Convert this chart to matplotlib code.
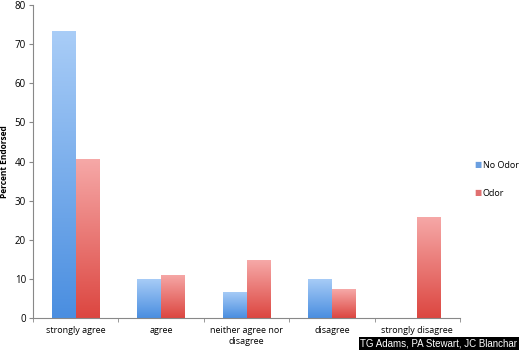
import numpy as np
import matplotlib.pyplot as plt
from matplotlib.colors import LinearSegmentedColormap

categories = ['strongly agree', 'agree', 'neither agree nor\ndisagree', 'disagree', 'strongly disagree']
no_odor = [73.3, 10.0, 6.7, 10.0, 0.0]
odor = [40.7, 11.1, 14.8, 7.4, 25.9]
y_ticks = [0, 10, 20, 30, 40, 50, 60, 70, 80]

blue_cmap = LinearSegmentedColormap.from_list('blue', ['#4a8ee0', '#a9cdf7'])
red_cmap = LinearSegmentedColormap.from_list('red', ['#dc4640', '#f6a9a8'])

plt.rcParams['font.family'] = ['Open Sans', 'DejaVu Sans']

fig = plt.figure(figsize=(5.2, 3.5), dpi=100)
ax = fig.add_axes([33 / 520, 32 / 350, 427 / 520, 313 / 350])

x = np.arange(len(categories))
w = 0.28
grad = np.linspace(0, 1, 256).reshape(-1, 1)

def gradient_bars(xs, vals, cmap, label):
    bars = ax.bar(xs, vals, w, color='none', edgecolor='none', label=label)
    for b in bars:
        if b.get_height() <= 0:
            continue
        x0 = b.get_x()
        im = ax.imshow(grad, cmap=cmap, origin='lower', aspect='auto',
                       extent=(x0, x0 + w, 0, b.get_height()), zorder=2)
        im.set_clip_path(b)
    return bars

gradient_bars(x - w / 2, no_odor, blue_cmap, 'No Odor')
gradient_bars(x + w / 2, odor, red_cmap, 'Odor')

ax.set_xlim(-0.5, len(categories) - 0.5)
ax.set_ylim(0, 80)
ax.set_yticks(y_ticks)
ax.tick_params(axis='y', labelsize=7, length=3, color='#888888', pad=2)
ax.set_xticks(x)
ax.set_xticklabels(categories, fontsize=6.5, linespacing=1.25)
ax.tick_params(axis='x', length=0, pad=6)
ax.set_xticks(np.arange(len(categories) + 1) - 0.5, minor=True)
ax.tick_params(axis='x', which='minor', length=3, color='#888888')
for s in ['top', 'right']:
    ax.spines[s].set_visible(False)
for s in ['left', 'bottom']:
    ax.spines[s].set_color('#888888')
    ax.spines[s].set_linewidth(0.8)

ax.set_ylabel('Percent Endorsed', fontsize=6, fontweight='bold', labelpad=4)

fig.text(0.913, 0.528, '\u25a0', color='#6a9fe0', fontsize=5.5, va='center')
fig.text(0.928, 0.528, 'No Odor', fontsize=6.5, va='center')
fig.text(0.913, 0.448, '\u25a0', color='#e07070', fontsize=5.5, va='center')
fig.text(0.928, 0.448, 'Odor', fontsize=6.5, va='center')

fig.text(0.995, 0.004, 'TG Adams, PA Stewart, JC Blanchar', color='white',
         fontsize=7, family='Liberation Sans', ha='right', va='bottom',
         bbox=dict(facecolor='black', edgecolor='none', pad=1))

fig.savefig('out.png', dpi=100)
